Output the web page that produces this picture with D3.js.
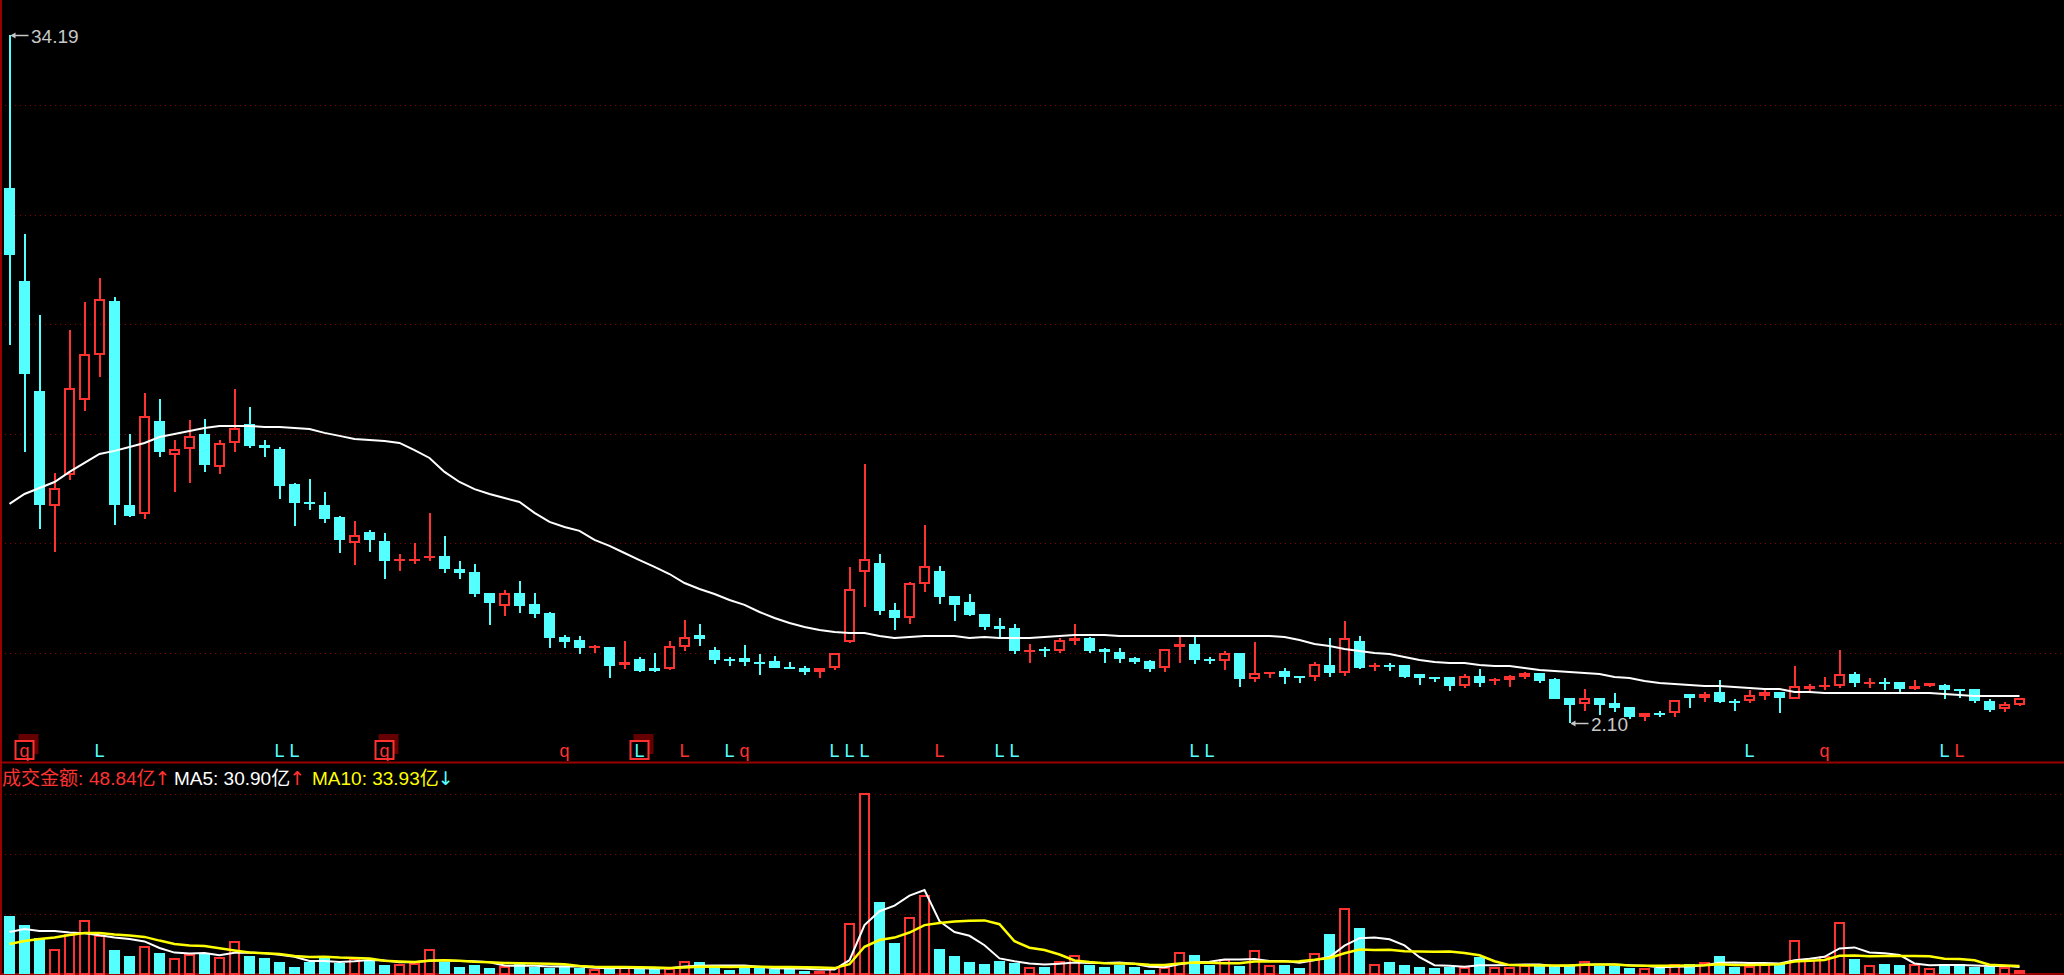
<!DOCTYPE html>
<html><head><meta charset="utf-8">
<script src="https://cdn.jsdelivr.net/npm/d3@7"></script>
<style>
html,body{margin:0;padding:0;background:#000;overflow:hidden}
svg{display:block}
</style></head><body>
<svg id="chart" width="2064" height="975"></svg>
<script>
// ---------- DATA ----------
const openP = [27.06,22.72,17.59,12.23,13.68,17.17,19.27,21.79,12.28,11.86, 16.19,14.61,14.89,15.59,14.05,15.17,16.05,15.08,14.89,13.26, 12.42,12.28,11.72,10.51,11.02,10.60,9.67,9.67,9.81,9.90, 9.29,9.15,8.18,7.57,8.18,7.66,7.24,6.12,5.98,5.66, 5.66,4.82,5.10,4.68,4.63,5.66,6.22,5.52,5.10,5.14, 4.96,5.00,4.72,4.68,4.49,4.68,5.89,9.15,9.57,7.38, 7.01,8.60,9.20,8.04,7.76,7.20,6.64,6.54,5.47,5.56, 5.47,5.94,6.08,5.56,5.42,5.14,5.00,4.68,5.66,5.80, 5.10,5.00,5.38,4.17,4.40,4.54,4.31,4.26,4.82,4.45, 5.94,4.72,4.82,4.82,4.40,4.26,4.26,3.84,4.31,4.07, 4.12,4.26,4.45,4.17,3.28,3.00,3.28,3.05,2.86,2.39, 2.58,2.58,3.47,3.28,3.56,3.14,3.14,3.37,3.56,3.23, 3.70,3.79,3.84,4.40,3.93,4.03,4.03,3.70,3.84,3.89, 3.70,3.70,3.14,2.77,2.95];
const highP = [34.19,24.91,21.14,13.77,20.44,21.74,22.86,21.98,15.59,17.50, 17.22,15.31,16.24,16.29,15.31,17.69,16.85,15.31,14.98,13.30, 13.49,12.88,11.77,11.53,11.11,10.97,9.99,10.51,11.91,10.83, 9.67,9.53,8.18,8.32,8.73,8.18,7.29,6.22,6.17,5.75, 5.66,5.94,5.19,5.38,5.94,6.92,6.73,5.66,5.19,5.75, 5.33,5.24,4.96,4.77,4.69,5.38,9.39,14.19,9.99,7.71, 8.69,11.35,9.43,8.04,8.13,7.20,7.01,6.73,5.80,5.66, 6.08,6.73,6.12,5.61,5.61,5.19,5.05,5.56,6.12,6.12, 5.19,5.47,5.38,5.89,4.49,4.68,4.31,4.96,6.08,6.87, 6.17,4.91,4.91,4.82,4.40,4.26,4.26,4.40,4.63,4.21, 4.35,4.49,4.45,4.21,3.28,3.70,3.28,3.51,2.86,2.58, 2.67,3.19,3.47,3.56,4.12,3.23,3.65,3.65,3.56,4.77, 3.93,4.26,5.52,4.49,4.21,4.21,4.03,4.12,3.98,3.93, 3.70,3.70,3.23,3.09,3.28];
const lowP = [19.74,14.75,11.16,10.09,13.44,16.66,18.25,11.35,11.72,11.63, 14.52,12.88,13.30,13.82,13.72,14.75,14.94,14.52,12.56,11.30, 12.05,11.44,10.04,9.48,10.09,8.83,9.20,9.53,9.67,9.11, 8.83,7.99,6.68,7.10,7.24,7.01,5.61,5.61,5.33,5.38, 4.21,4.63,4.49,4.49,4.59,5.47,5.70,4.87,4.77,4.77, 4.35,4.66,4.61,4.35,4.21,4.59,5.84,7.52,7.15,6.45, 6.73,8.22,7.66,6.87,7.10,6.45,6.12,5.33,4.91,5.19, 5.38,5.75,5.38,4.91,4.91,4.87,4.49,4.49,4.91,4.87, 4.87,4.59,3.79,4.03,4.21,3.93,3.98,4.07,4.26,4.31, 4.63,4.54,4.54,4.21,3.89,4.03,3.61,3.75,3.79,3.89, 3.79,4.17,3.98,3.21,2.10,2.67,2.49,2.63,2.30,2.21, 2.39,2.39,2.81,3.09,3.05,2.67,3.05,3.19,2.58,3.21, 3.61,3.65,3.75,3.79,3.75,3.65,3.56,3.65,3.79,3.23, 3.28,3.05,2.63,2.63,2.91];
const closeP = [23.93,18.39,12.28,13.07,17.73,19.32,21.88,12.28,11.77,16.43, 14.75,14.89,15.50,14.14,15.17,15.87,15.03,14.94,13.16,12.37, 12.37,11.63,10.65,10.88,10.65,9.67,9.76,9.76,9.90,9.29, 9.11,8.13,7.71,8.18,7.57,7.20,6.08,5.89,5.61,5.70, 4.77,4.96,4.54,4.54,5.70,6.12,6.03,5.05,5.00,4.96, 4.87,4.68,4.63,4.49,4.68,5.38,8.36,9.76,7.34,7.01, 8.64,9.43,7.99,7.62,7.15,6.59,6.50,5.47,5.52,5.47, 5.98,6.08,5.47,5.42,5.10,4.96,4.63,5.56,5.80,5.05, 5.00,5.38,4.17,4.45,4.49,4.26,4.21,4.87,4.45,6.08, 4.68,4.82,4.72,4.26,4.21,4.17,3.84,4.31,3.98,4.17, 4.31,4.45,4.07,3.23,2.95,3.28,2.95,2.81,2.39,2.58, 2.49,3.19,3.28,3.47,3.09,3.09,3.42,3.56,3.28,3.84, 3.84,3.89,4.40,3.98,4.03,3.93,3.70,3.84,3.98,3.65, 3.61,3.14,2.72,3.00,3.28];
// price moving average (white line in the price panel)
const priceMA = [12.33,12.79,13.07,13.35,13.82,14.24,14.66,14.80,14.98,15.17, 15.45,15.59,15.73,15.87,15.96,15.96,15.96,15.91,15.91,15.87, 15.82,15.64,15.50,15.36,15.31,15.26,15.17,14.84,14.47,13.82, 13.35,13.02,12.79,12.60,12.42,11.91,11.49,11.25,11.07,10.65, 10.37,10.04,9.71,9.39,9.06,8.64,8.36,8.13,7.85,7.62, 7.29,7.01,6.78,6.59,6.45,6.36,6.31,6.31,6.17,6.08, 6.12,6.17,6.17,6.17,6.08,6.12,6.08,6.08,6.08,6.12, 6.17,6.22,6.22,6.22,6.17,6.17,6.17,6.17,6.17,6.17, 6.17,6.17,6.17,6.17,6.17,6.12,5.98,5.80,5.70,5.56, 5.47,5.38,5.33,5.19,5.05,4.96,4.91,4.91,4.82,4.77, 4.77,4.68,4.59,4.54,4.49,4.45,4.40,4.26,4.21,4.07, 3.98,3.93,3.89,3.84,3.84,3.79,3.75,3.70,3.70,3.56, 3.56,3.51,3.51,3.51,3.51,3.51,3.51,3.51,3.51,3.47, 3.42,3.37,3.37,3.37,3.37];
// turnover (亿)
const volume = [255.2,215.6,158.4,110,176,237.6,171.6,105.6,79.2,123.2, 92.4,70.4,88,88,74.8,145.2,79.2,70.4,52.8,30.8, 52.8,79.2,48.4,70.4,57.2,39.6,44,48.4,110,52.8, 30.8,39.6,26.4,35.2,48.4,30.8,26.4,30.8,26.4,22, 22,35.2,22,22,26.4,57.2,52.8,30.8,17.6,30.8, 26.4,22,22,13.2,13.2,30.8,224.4,796.4,316.8,136.4, 250.8,347.6,110,79.2,52.8,44,57.2,48.4,30.8,30.8, 57.2,83.6,39.6,30.8,39.6,30.8,17.6,30.8,96.8,83.6, 39.6,66,35.2,105.6,39.6,39.6,26.4,92.4,176,290.4, 202.4,44,52.8,39.6,30.8,26.4,30.8,30.8,74.8,30.8, 30.8,39.6,35.2,39.6,39.6,57.2,35.2,35.2,26.4,26.4, 26.4,44,44,52.8,79.2,30.8,35.2,44,44,149.6, 61.6,79.2,228.8,66,39.6,44,39.6,44,26.4,44, 44,30.8,30.8,30.8,17.6];
const volMA5 = [184.8,198,189.2,189.2,183.0,179.5,170.7,160.2,154,143.4, 114.4,94.2,90.6,92.4,82.7,93.3,95.0,91.5,84.5,75.7, 57.2,57.2,52.8,56.3,61.6,59.0,51.9,51.9,59.8,59.0, 57.2,56.3,51.9,37.0,36.1,36.1,33.4,34.3,32.6,27.3, 25.5,27.3,25.5,24.6,25.5,32.6,36.1,37.8,37.0,37.8, 31.7,25.5,23.8,22.9,19.4,20.2,60.7,215.6,276.3,301.0, 345.0,369.6,232.3,184.8,168.1,126.7,68.6,56.3,46.6,42.2, 44.9,50.2,48.4,48.4,50.2,44.9,31.7,29.9,43.1,51.9, 53.7,63.4,64.2,66,57.2,57.2,49.3,60.7,74.8,125.0, 157.5,161.0,153.1,125.8,73.9,38.7,36.1,31.7,38.7,38.7, 39.6,41.4,42.2,35.2,37.0,42.2,41.4,41.4,38.7,36.1, 29.9,31.7,33.4,38.7,49.3,50.2,48.4,48.4,46.6,60.7, 66.9,75.7,112.6,117.0,95.0,91.5,83.6,46.6,38.7,39.6, 39.6,37.8,35.2,36.1,30.8];
const volMA10 = [132,145.2,154,160.6,171.6,180.4,180.4,173.8,169.4,163.2, 147.0,132.4,125.4,123.2,113.1,103.8,94.6,91.1,88.4,79.2, 75.2,76.1,72.2,70.4,68.6,58.1,54.6,52.4,58.1,60.3, 58.1,54.1,51.9,48.4,47.5,46.6,44.9,43.1,34.8,31.7, 30.8,30.4,29.9,28.6,26.4,29.0,31.7,31.7,30.8,31.7, 32.1,30.8,30.8,29.9,28.6,26.0,43.1,119.7,149.6,160.2, 182.6,215.2,224.0,230.6,234.5,235.8,219.1,144.3,115.7,105.2, 85.8,59.4,52.4,47.5,46.2,44.9,40.9,39.2,45.8,51.0, 49.3,47.5,47.1,54.6,54.6,55.4,56.3,62.5,70.4,91.1, 107.4,105.2,106.9,100.3,99.4,98.1,98.6,92.4,82.3,56.3, 39.2,38.7,37.0,37.0,37.8,40.9,41.4,41.8,37.0,36.5, 36.1,36.5,37.4,38.7,42.7,40.0,40.0,40.9,42.7,55.0, 58.5,62.0,80.5,81.8,77.9,79.2,79.6,79.6,77.9,67.3, 65.6,60.7,40.9,37.4,35.2];
// signal markers under the candles
const markerIdx   = [1,6,18,19,25,37,42,45,48,49,55,56,57,62,66,67,79,80,116,121,129,130];
const markerText  = ["q","L","L","L","q","q","L","L","L","q","L","L","L","L","L","L","L","L","L","q","L","L"];
const markerSide  = ["up","down","down","down","up","up","down","up","down","up","down","down","down","up","down","down","down","down","down","up","down","up"];
const markerBoxed = [1,0,0,0,1,0,1,0,0,0,0,0,0,0,0,0,0,0,0,0,0,0];
// header legend
const legendName = "成交金额";
const legendValues = ["48.84", "30.90", "33.93"];
const legendNames = ["MA5", "MA10"];
const legendArrows = ["↑", "↑", "↓"];

// ---------- DRAW ----------
const W = 2064, H = 975;
const UP = "#ff3232", DOWN = "#54ffff", GRID = "#8a0000", FRAME = "#9a0000";
const n = closeP.length;
const svg = d3.select("#chart");
svg.append("rect").attr("width", W).attr("height", H).attr("fill", "#000");

const x = d3.scaleBand().domain(d3.range(n)).range([2, 2027]).paddingInner(4/15).paddingOuter(2/15);
const bw = x.bandwidth();
const cx = i => x(i) + bw / 2;
const y = d3.scaleLinear().domain([d3.min(lowP), d3.max(highP)]).range([723.3, 35]);
const yv = d3.scaleLinear().domain([0, 792]).range([974, 794]);

const grid = svg.append("g").attr("stroke", GRID).attr("stroke-width", 1).attr("stroke-dasharray", "1,4");
// price panel grid: equal bands above the divider
const panelBottom = 762.5, band = 109.6;
d3.range(1, 7).forEach(k => {
  const gy = Math.round(panelBottom - band * k) + 0.5;
  grid.append("line").attr("x1", 5).attr("x2", W).attr("y1", gy).attr("y2", gy);
});
[264, 528, 792].forEach(v => {
  const gy = Math.round(yv(v)) + 0.5;
  grid.append("line").attr("x1", 5).attr("x2", W).attr("y1", gy).attr("y2", gy);
});

// frame
svg.append("rect").attr("x", 0).attr("y", 0).attr("width", 2).attr("height", H).attr("fill", FRAME);
svg.append("rect").attr("x", 0).attr("y", 761.5).attr("width", W).attr("height", 2).attr("fill", FRAME);
svg.append("rect").attr("x", 0).attr("y", 973).attr("width", W).attr("height", 2).attr("fill", FRAME);

// candles
const cg = svg.append("g").attr("shape-rendering", "crispEdges");
d3.range(n).forEach(i => {
  const o = openP[i], c = closeP[i], h = highP[i], l = lowP[i];
  const up = c >= o;
  const col = up ? UP : DOWN;
  const xc = cx(i), x0 = x(i);
  const yTop = y(Math.max(o, c)), yBot = y(Math.min(o, c));
  const bh = yBot - yTop;
  if (up && bh >= 4) {
    cg.append("rect").attr("x", xc - 1).attr("y", y(h)).attr("width", 2).attr("height", Math.max(0, yTop - y(h))).attr("fill", col);
    cg.append("rect").attr("x", xc - 1).attr("y", yBot).attr("width", 2).attr("height", Math.max(0, y(l) - yBot)).attr("fill", col);
    cg.append("rect").attr("x", x0 + 1).attr("y", yTop + 1).attr("width", bw - 2).attr("height", bh - 2)
      .attr("fill", "none").attr("stroke", col).attr("stroke-width", 2);
  } else {
    cg.append("rect").attr("x", xc - 1).attr("y", y(h)).attr("width", 2).attr("height", Math.max(1, y(l) - y(h))).attr("fill", col);
    cg.append("rect").attr("x", x0).attr("y", yTop).attr("width", bw).attr("height", Math.max(2, bh)).attr("fill", col);
  }
});

// price MA
svg.append("path").datum(priceMA)
  .attr("d", d3.line().x((d, i) => cx(i)).y(d => y(d)))
  .attr("fill", "none").attr("stroke", "#ffffff").attr("stroke-width", 2);

// extreme labels
const lab = svg.append("g").attr("font-family", "'Liberation Sans', Arial, sans-serif").attr("font-size", 19).attr("fill", "#c8c8c8");
function extremeLabel(i, v) {
  const px = cx(i), py = Math.round(y(v)) + 0.5;
  lab.append("line").attr("x1", px + 2).attr("x2", px + 19).attr("y1", py).attr("y2", py).attr("stroke", "#c8c8c8").attr("stroke-width", 1.5);
  lab.append("path").attr("d", `M${px + 1},${py} L${px + 6},${py - 3} L${px + 6},${py + 3} Z`).attr("fill", "#c8c8c8");
  lab.append("text").attr("x", px + 21.5).attr("y", py + 7).text(v.toFixed(2));
}
const iMax = d3.maxIndex(highP), iMin = d3.minIndex(lowP);
extremeLabel(iMax, highP[iMax]);
extremeLabel(iMin, lowP[iMin]);

// markers
const mg = svg.append("g").attr("font-family", "'Liberation Sans', Arial, sans-serif").attr("font-size", 18).attr("text-anchor", "middle");
markerIdx.forEach((i, k) => {
  const px = cx(i);
  if (markerBoxed[k]) {
    mg.append("rect").attr("x", px - 6).attr("y", 734).attr("width", 20).attr("height", 20).attr("fill", "#650000");
    mg.append("rect").attr("x", px - 9).attr("y", 741).attr("width", 18).attr("height", 18).attr("fill", "#000").attr("stroke", UP).attr("stroke-width", 2);
  }
  mg.append("text").attr("x", px).attr("y", 757).attr("fill", markerSide[k] === "up" ? UP : DOWN).text(markerText[k]);
});

// volume bars
const vg = svg.append("g").attr("shape-rendering", "crispEdges");
d3.range(n).forEach(i => {
  const up = closeP[i] >= openP[i];
  const col = up ? UP : DOWN;
  const top = yv(volume[i]), hgt = yv(0) - top;
  if (up && hgt >= 5) {
    vg.append("rect").attr("x", x(i) + 1).attr("y", top + 1).attr("width", bw - 2).attr("height", hgt - 1)
      .attr("fill", "none").attr("stroke", col).attr("stroke-width", 2);
  } else {
    vg.append("rect").attr("x", x(i)).attr("y", top).attr("width", bw).attr("height", hgt).attr("fill", col);
  }
});
const vline = d3.line().x((d, i) => cx(i)).y(d => yv(d));
svg.append("path").datum(volMA5).attr("d", vline).attr("fill", "none").attr("stroke", "#ffffff").attr("stroke-width", 2);
svg.append("path").datum(volMA10).attr("d", vline).attr("fill", "none").attr("stroke", "#ffff00").attr("stroke-width", 2.5);

// header legend
const hg = svg.append("g").attr("font-family", "'Liberation Sans', 'Noto Sans CJK SC', sans-serif").attr("font-size", 19);
const arrowFont = "'DejaVu Sans', sans-serif";
hg.append("text").attr("x", 2).attr("y", 785).attr("fill", UP).text(legendName + ":");
const h1 = hg.append("text").attr("x", 89).attr("y", 785).attr("fill", UP);
h1.append("tspan").text(legendValues[0] + "亿");
h1.append("tspan").attr("font-family", arrowFont).attr("dx", -1).text(legendArrows[0]);
const t1 = hg.append("text").attr("x", 174).attr("y", 785);
t1.append("tspan").attr("fill", "#ffffff").text(legendNames[0] + ": " + legendValues[1] + "亿");
t1.append("tspan").attr("fill", UP).attr("font-family", arrowFont).attr("dx", -1).text(legendArrows[1]);
const t2 = hg.append("text").attr("x", 312).attr("y", 785);
t2.append("tspan").attr("fill", "#ffff00").text(legendNames[1] + ": " + legendValues[2] + "亿");
t2.append("tspan").attr("fill", DOWN).attr("font-family", arrowFont).attr("dx", -1).text(legendArrows[2]);
</script>
</body></html>
